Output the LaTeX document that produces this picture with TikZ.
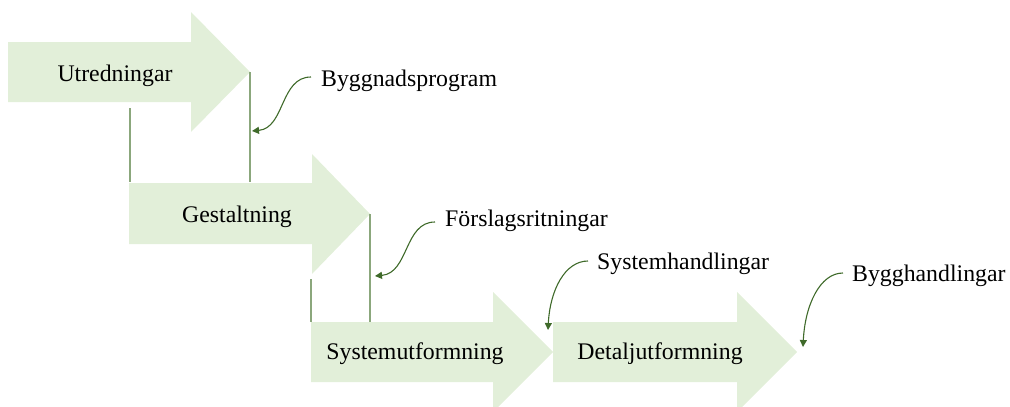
\documentclass[tikz,border=0pt]{standalone}
\usepackage{fontspec}
\setmainfont{Liberation Serif}
\usetikzlibrary{arrows.meta,calc}
\definecolor{blockfill}{HTML}{E2EFD9}
\definecolor{linegreen}{HTML}{8BA77C}
\definecolor{arrowgreen}{HTML}{3F6A2A}
\begin{document}
\begin{tikzpicture}[x=1pt,y=-1pt,
  block/.style={fill=blockfill,draw=none},
  blocktext/.style={anchor=base,inner sep=0pt,font=\fontsize{23.8}{28}\selectfont},
  labeltext/.style={anchor=base west,inner sep=0pt,font=\fontsize{23.8}{28}\selectfont},
  guide/.style={draw=linegreen,line width=1.4pt},
  callout/.style={draw=arrowgreen,line width=1.1pt,-{Triangle[length=7pt,width=7pt]}}]
\useasboundingbox (0,0) rectangle (1010,407);
% block arrows
\path[block] (8,42) -- (191,42) -- (191,12) -- (250,72) -- (191,132) -- (191,102) -- (8,102) -- cycle;
\coordinate (tipA) at (250,72);
\path[block] (129,183) -- (312,183) -- (312,154) -- (370,214) -- (312,274) -- (312,244) -- (129,244) -- cycle;
\coordinate (tipB) at (370,214);
\path[block] (311,322) -- (493,322) -- (493,292) -- (553,352) -- (493,412) -- (493,382) -- (311,382) -- cycle;
\path[block] (553,322) -- (737,322) -- (737,292) -- (797,352) -- (737,412) -- (737,382) -- (553,382) -- cycle;
% texts
\node[blocktext] (utr) at (115,81) {Utredningar};
\node[blocktext] (ges) at (237,222) {Gestaltning};
\node[blocktext] (sys) at (415,359) {Systemutformning};
\node[blocktext] (det) at (660,359) {Detaljutformning};
\node[labeltext] (bp) at (321,86) {Byggnadsprogram};
\node[labeltext] (fr) at (445,226) {Förslagsritningar};
\node[labeltext] (sh) at (597,269) {Systemhandlingar};
\node[labeltext] (bh) at (852,281) {Bygghandlingar};
% guide lines
\coordinate (gA1) at (250,182);
\coordinate (gA0) at (130,108);
\coordinate (gA2) at (130,182);
\coordinate (gB1) at (370,322);
\coordinate (gB0) at (311,279);
\coordinate (gB2) at (311,322);
\draw[guide] (tipA) -- (gA1);
\draw[guide] (gA0) -- (gA2);
\draw[guide] (tipB) -- (gB1);
\draw[guide] (gB0) -- (gB2);
% callout ends
\coordinate (eA) at (252,131);
\coordinate (eB) at (375,276);
\coordinate (eC) at (548,330);
\coordinate (eD) at (803,347);
\draw[callout] ($(bp.base west)+(-10,-9)$) .. controls +(-31,0) and (285,128) .. (eA);
\draw[callout] ($(fr.base west)+(-10,-4)$) .. controls +(-31,0) and (409,273) .. (eB);
\draw[callout] ($(sh.base west)+(-9,-8)$) .. controls +(-23,0) and (550,290) .. (eC);
\draw[callout] ($(bh.base west)+(-9,-8)$) .. controls +(-23,0) and (805,305) .. (eD);
\end{tikzpicture}
\end{document}
